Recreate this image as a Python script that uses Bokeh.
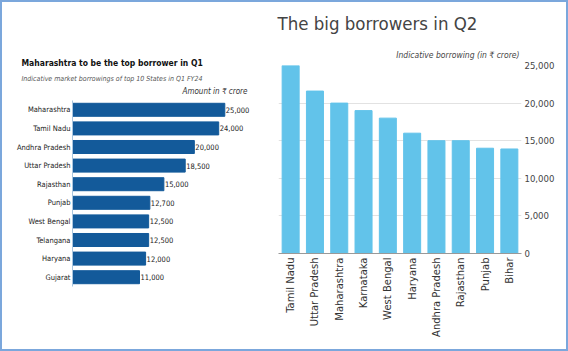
from math import pi
from bokeh.plotting import figure
from bokeh.models import (FactorRange, Range1d, ColumnDataSource, Title, FixedTicker,
                          NumeralTickFormatter, Row, Column)
from bokeh.core.properties import value
from bokeh.embed import file_html
from bokeh.resources import INLINE

# ---------------- data ----------------
q1_states = ["Maharashtra", "Tamil Nadu", "Andhra Pradesh", "Uttar Pradesh", "Rajasthan",
             "Punjab", "West Bengal", "Telangana", "Haryana", "Gujarat"]
q1_values = [25000, 24000, 20000, 18500, 15000, 12700, 12500, 12500, 12000, 11000]

q2_states = ["Tamil Nadu", "Uttar Pradesh", "Maharashtra", "Karnataka", "West Bengal",
             "Haryana", "Andhra Pradesh", "Rajasthan", "Punjab", "Bihar"]
q2_values = [25000, 21600, 20000, 19000, 18000, 16000, 15000, 15000, 14000, 13900]
q2_ticks = [0, 5000, 10000, 15000, 20000, 25000]

NARROW = "DejaVu Sans Condensed"

# ---------------- left panel ----------------
p1 = figure(width=270, height=347, y_range=FactorRange(*reversed(q1_states)),
            x_range=Range1d(0, 31188), min_border_left=70, min_border_right=10,
            min_border_top=98, min_border_bottom=63, toolbar_location=None,
            output_backend="svg")
src1 = ColumnDataSource(dict(state=q1_states, val=q1_values,
                             lab=[f"{v:,}" for v in q1_values]))
p1.hbar(y="state", right="val", height=0.7, source=src1, color="#135a9a")
p1.text(x="val", y="state", text="lab", source=src1, x_offset=1,
        text_baseline="middle", text_font=value(NARROW), text_font_size="7.5px",
        text_color="#222222")
p1.xaxis.visible = False
p1.xgrid.visible = False
p1.ygrid.visible = False
p1.outline_line_color = None
ya = p1.yaxis[0]
ya.axis_line_color = "#a9c6df"
ya.major_tick_line_color = None
ya.minor_tick_line_color = None
ya.major_tick_out = 0
ya.major_tick_in = 0
ya.major_label_standoff = 2
ya.major_label_text_font = NARROW
ya.major_label_text_font_size = "7.5px"
ya.major_label_text_color = "#222222"

p1.add_layout(Title(text="Amount in ₹ crore", align="right", offset=15, standoff=9.5,
                    text_font=NARROW, text_font_style="italic", text_font_size="8px",
                    text_color="#333333"), "above")
p1.add_layout(Title(text="Indicative market borrowings of top 10 States in Q1 FY24",
                    align="left", offset=-51, standoff=-7.5, text_font=NARROW,
                    text_font_style="italic", text_font_size="7px",
                    text_color="#555555"), "above")
p1.add_layout(Title(text="Maharashtra to be the top borrower in Q1", align="left",
                    offset=-51, standoff=17, text_font=NARROW, text_font_style="bold",
                    text_font_size="8.5px", text_color="#111111"), "above")

# ---------------- right panel ----------------
p2 = figure(width=294, height=347, x_range=FactorRange(*q2_states),
            y_range=Range1d(0, 25000), y_axis_location="right",
            min_border_left=6, min_border_right=45, min_border_top=63,
            min_border_bottom=96, toolbar_location=None, output_backend="svg")
src2 = ColumnDataSource(dict(state=q2_states, val=q2_values))
p2.vbar(x="state", top="val", width=0.7, source=src2, color="#62c3ea")
p2.outline_line_color = None
p2.xgrid.visible = False
p2.ygrid.grid_line_color = "#e2e2e2"
p2.ygrid.ticker = FixedTicker(ticks=q2_ticks)
yb = p2.yaxis[0]
yb.ticker = FixedTicker(ticks=q2_ticks)
yb.formatter = NumeralTickFormatter(format="0,0")
yb.axis_line_color = None
yb.major_tick_line_color = None
yb.minor_tick_line_color = None
yb.major_tick_out = 0
yb.major_tick_in = 0
yb.major_label_standoff = 3
yb.major_label_text_font = NARROW
yb.major_label_text_font_size = "9.5px"
yb.major_label_text_color = "#444444"
xb = p2.xaxis[0]
xb.axis_line_color = "#999999"
xb.major_tick_line_color = None
xb.minor_tick_line_color = None
xb.major_tick_out = 0
xb.major_tick_in = 0
xb.major_label_orientation = pi / 2
xb.major_label_standoff = 4
xb.major_label_text_font = "DejaVu Sans"
xb.major_label_text_font_size = "10px"
xb.major_label_text_color = "#333333"
p2.x_range.range_padding = 0

p2.add_layout(Title(text="Indicative borrowing (in ₹ crore)", align="right", offset=2,
                    standoff=11, text_font=NARROW, text_font_style="italic",
                    text_font_size="8.5px", text_color="#444444"), "above")
p2.add_layout(Title(text="The big borrowers in Q2", align="left", offset=-1, standoff=17,
                    text_font=NARROW, text_font_style="normal", text_font_size="18.5px",
                    text_color="#444444"), "above")

layout = Row(children=[Column(children=[p1]), Column(children=[p2])], spacing=0,
             styles={"border": "2px solid #7ba7dc"})

open("out.html", "w").write(file_html(layout, INLINE))
